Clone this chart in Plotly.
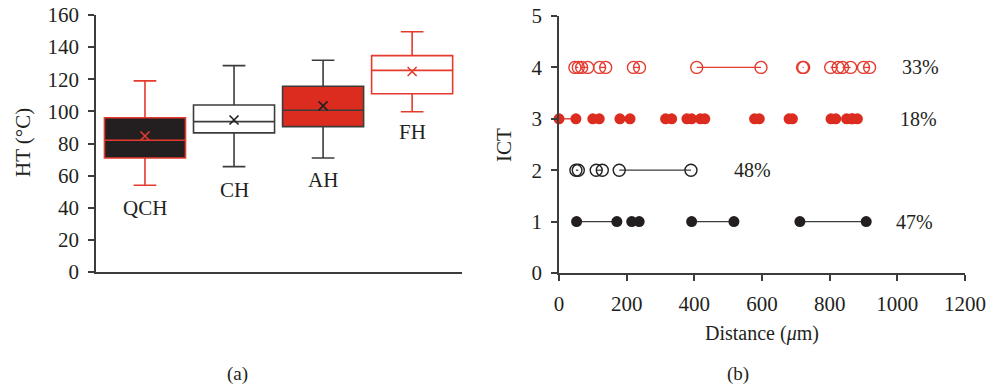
import plotly.graph_objects as go

# ---- Panel (a): HT box statistics per hardening type ----
groups = ["QCH", "CH", "AH", "FH"]
lower_whisker = [54, 65.6, 71, 99.8]
q1 = [71, 86.6, 90.5, 111]
median = [82, 93.6, 100.7, 125.5]
q3 = [96, 104, 115.6, 134.7]
upper_whisker = [119, 128.5, 131.8, 149.6]
means = [84.7, 94.6, 103.4, 124.8]
label_y = [40, 51, 57, 87]

# ---- Panel (b): crack segments (start, end) along distance, per ICT level ----
ict1_pairs = [(52, 171), (215, 237), (392, 517), (712, 908)]
ict2_pairs = [(50, 57), (110, 128), (178, 390)]
ict3_pairs = [(0, 50), (100, 119), (180, 210), (315, 333), (378, 392),
              (418, 431), (578, 592), (680, 690), (804, 818), (850, 865),
              (868, 882)]
ict4_pairs = [(47, 57), (67, 85), (120, 138), (220, 238), (407, 597),
              (720, 723), (803, 825), (838, 862), (900, 918)]
ict_percent = ["47%", "48%", "18%", "33%"]
ict_percent_x = [1050, 573, 1062, 1067]

RED = "#dc2c1f"
RED_LINE = "#e63a2e"
DARK = "#231f20"
GREY = "#3c3c3c"
FONT = "Liberation Serif"
FS = 21
W, H = 989, 386

box_style = [
    dict(fill=DARK, line=RED_LINE, mean=RED_LINE),
    dict(fill="#ffffff", line=GREY, mean=DARK),
    dict(fill=RED, line=GREY, mean=DARK),
    dict(fill="#ffffff", line=RED_LINE, mean=RED_LINE),
]

fig = go.Figure()

for i, g in enumerate(groups):
    st = box_style[i]
    fig.add_trace(go.Box(
        x=[i], q1=[q1[i]], median=[median[i]], q3=[q3[i]],
        lowerfence=[lower_whisker[i]], upperfence=[upper_whisker[i]],
        width=0.91, whiskerwidth=0.28,
        fillcolor=st["fill"], line=dict(color=st["line"], width=1.6),
        name=g, showlegend=False, hoverinfo="skip",
        xaxis="x", yaxis="y",
    ))
    fig.add_trace(go.Scatter(
        x=[i], y=[means[i]], mode="markers",
        marker=dict(symbol="x-thin", size=9,
                    line=dict(color=st["mean"], width=1.6)),
        showlegend=False, hoverinfo="skip", xaxis="x", yaxis="y",
    ))
    fig.add_annotation(x=i, y=label_y[i], xref="x", yref="y", text=g,
                       showarrow=False, font=dict(family=FONT, size=FS, color=DARK))


def segment_xy(pairs, level):
    xs, ys = [], []
    for a, b in pairs:
        xs += [a, b, None]
        ys += [level, level, None]
    return xs, ys


rows = [
    (ict1_pairs, 1, dict(symbol="circle", size=11, color=DARK), GREY),
    (ict2_pairs, 2, dict(symbol="circle-open", size=12, color=DARK,
                         line=dict(width=1.4)), GREY),
    (ict3_pairs, 3, dict(symbol="circle", size=11, color=RED), RED),
    (ict4_pairs, 4, dict(symbol="circle-open", size=12, color=RED_LINE,
                         line=dict(width=1.4)), RED_LINE),
]
for pairs, level, marker, lcolor in rows:
    xs, ys = segment_xy(pairs, level)
    fig.add_trace(go.Scatter(
        x=xs, y=ys, mode="lines+markers", marker=marker,
        line=dict(color=lcolor, width=1.3), cliponaxis=False,
        showlegend=False, hoverinfo="skip", xaxis="x2", yaxis="y2",
    ))

for k, txt in enumerate(ict_percent):
    fig.add_annotation(x=ict_percent_x[k], y=k + 1, xref="x2", yref="y2",
                       text=txt, showarrow=False,
                       font=dict(family=FONT, size=FS - 1, color=DARK))


def paper_text(px, py, text, size, angle=0):
    fig.add_annotation(x=px / W, y=1 - py / H, xref="paper", yref="paper",
                       xanchor="center", yanchor="middle",
                       text=text, showarrow=False, textangle=angle,
                       font=dict(family=FONT, size=size, color=DARK))


# axis titles and panel captions
paper_text(23, 143, "HT (°C)", FS, -90)
paper_text(504, 145, "ICT", FS, -90)
paper_text(762, 333, "Distance (<i>μ</i>m)", FS - 1)
paper_text(237, 374, "(a)", FS - 2)
paper_text(738, 374, "(b)", FS - 2)

axis_common = dict(showline=True, linecolor=GREY, linewidth=1.6,
                   showgrid=False, zeroline=False, automargin=False,
                   tickfont=dict(family=FONT, size=FS, color=DARK))

fig.update_layout(
    width=W, height=H, autosize=False,
    margin=dict(l=0, r=0, t=0, b=0),
    paper_bgcolor="white", plot_bgcolor="white",
    boxmode="overlay",
    xaxis=dict(domain=[96 / W, 462 / W], range=[-0.55, 3.56],
               ticks="", showticklabels=False, anchor="y", **axis_common),
    yaxis=dict(domain=[1 - 272 / H, 1 - 15 / H], range=[0, 160],
               tickvals=list(range(0, 161, 20)), ticks="outside",
               ticklen=6, tickcolor=GREY, tickwidth=1.6, anchor="x",
               ticklabelstandoff=5, **axis_common),
    xaxis2=dict(domain=[559 / W, 965 / W], range=[0, 1200],
                tickvals=list(range(0, 1201, 200)), ticks="outside",
                ticklen=6, tickcolor=GREY, tickwidth=1.6, anchor="y2",
                ticklabelstandoff=5, **axis_common),
    yaxis2=dict(domain=[1 - 273 / H, 1 - 16 / H], range=[0, 5],
                tickvals=list(range(0, 6)), ticks="outside",
                ticklen=6, tickcolor=GREY, tickwidth=1.6, anchor="x2",
                ticklabelstandoff=5, **axis_common),
)

fig.write_html("out.html")
